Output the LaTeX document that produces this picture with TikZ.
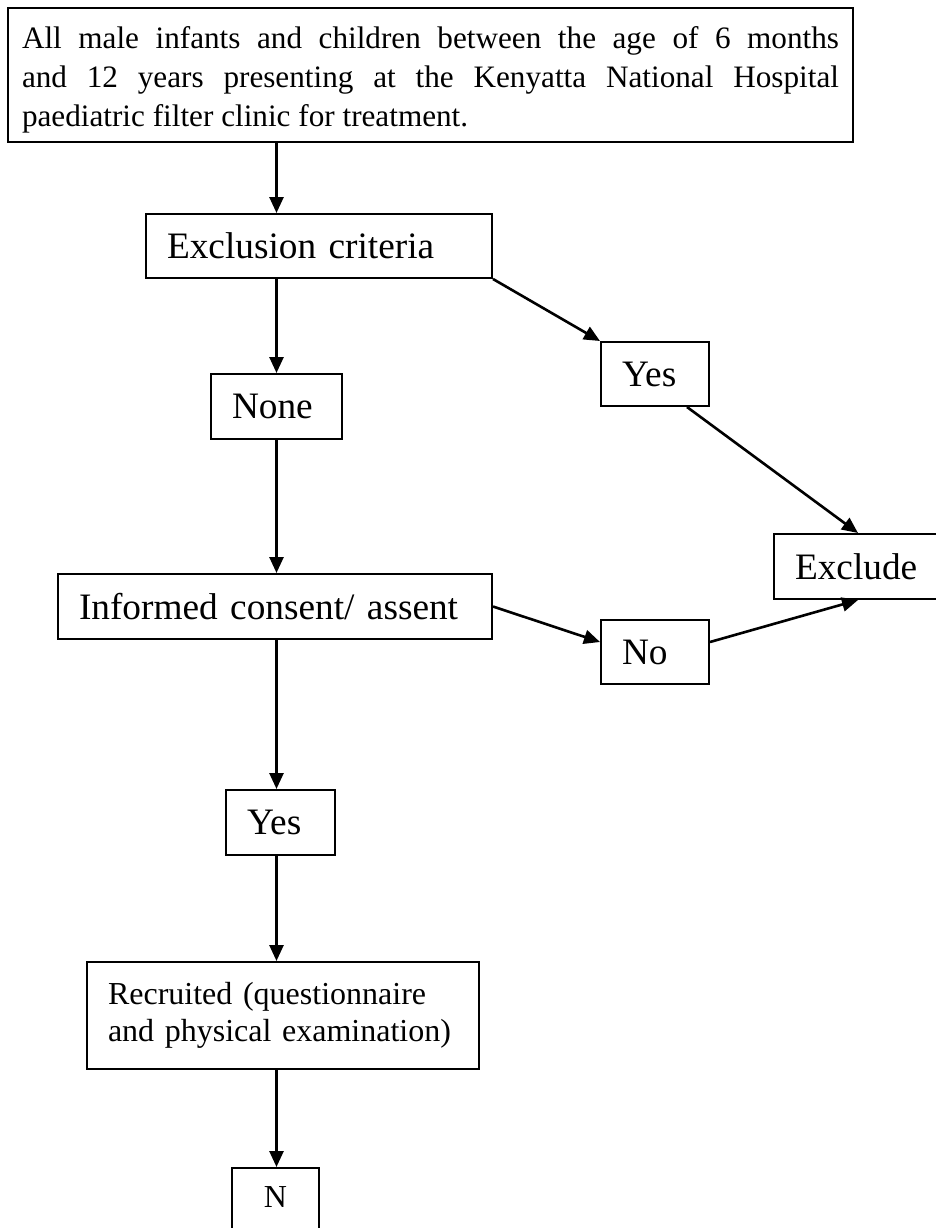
\documentclass[tikz,border=0pt]{standalone}
\usepackage{fontspec}
\setmainfont{Liberation Serif}
\usetikzlibrary{arrows.meta}
\tikzset{stage/.style={draw, line width=1pt, align=left, inner xsep=10.5pt, inner ysep=0pt,
           font=\fontsize{18.65pt}{22pt}\selectfont},
         flow/.style={line width=1.3pt, -{Triangle[length=8pt,width=7pt]}}}

\begin{document}
\begin{tikzpicture}[x=0.5pt,y=-0.5pt]
  \useasboundingbox (0,0) rectangle (936,1228);
  \clip (0,0) rectangle (936,1228);
  \coordinate (spine) at (276.5,0);
  \node[draw, line width=1pt, align=justify, text width=408.5pt, inner xsep=7pt, inner ysep=0pt,
        minimum height=67pt, font=\fontsize{15.6pt}{19.5pt}\selectfont] (top) at (430.5,75)
    {\rule{0pt}{16pt}All male infants and children between the age of 6 months\linebreak
     and 12 years presenting at the Kenyatta National Hospital\linebreak
     paediatric filter clinic for treatment.};
  \node[stage, text width=152pt, minimum height=32pt] (excl) at (319,246) {Exclusion criteria};
  \node[stage, text width=44.5pt, minimum height=32.5pt] (none) at (276.5,406.5) {None};
  \node[stage, text width=33pt, minimum height=32pt] (yesR) at (655,374) {Yes};
  \node[stage, text width=63pt, minimum height=32.5pt] (excld) at (858,566.5) {Exclude};
  \node[stage, text width=196pt, minimum height=32.5pt] (cons) at (275,606.5) {Informed consent/ assent};
  \node[stage, text width=33pt, minimum height=32pt] (no) at (655,652) {No};
  \node[stage, text width=33.5pt, minimum height=32.5pt] (yestwo) at (280.5,822.5) {Yes};
  \node[stage, text width=175pt, minimum height=53.5pt, font=\fontsize{16pt}{18.5pt}\selectfont] (recr)
    at (283,1015.5) {Recruited (questionnaire\\ and physical examination)};
  \node[draw, line width=1pt, anchor=north, minimum width=43.5pt, inner ysep=9.3pt, text depth=20pt,
        font=\fontsize{16pt}{18pt}\selectfont] (n) at (275.5,1167) {N};
  \foreach \a/\b in {top/excl, excl/none, none/cons, cons/yestwo, yestwo/recr, recr/n}
    \draw[flow] (\a.south -| spine) -- (\b.north -| spine);
  \draw[flow] (excl.south east) -- (yesR.north west);
  \draw[flow] ([xshift=16pt]yesR.south) -- (excld.north);
  \draw[flow] (cons.east) -- ([yshift=5pt]no.west);
  \draw[flow] ([yshift=5pt]no.east) -- (excld.south);
\end{tikzpicture}
\end{document}
